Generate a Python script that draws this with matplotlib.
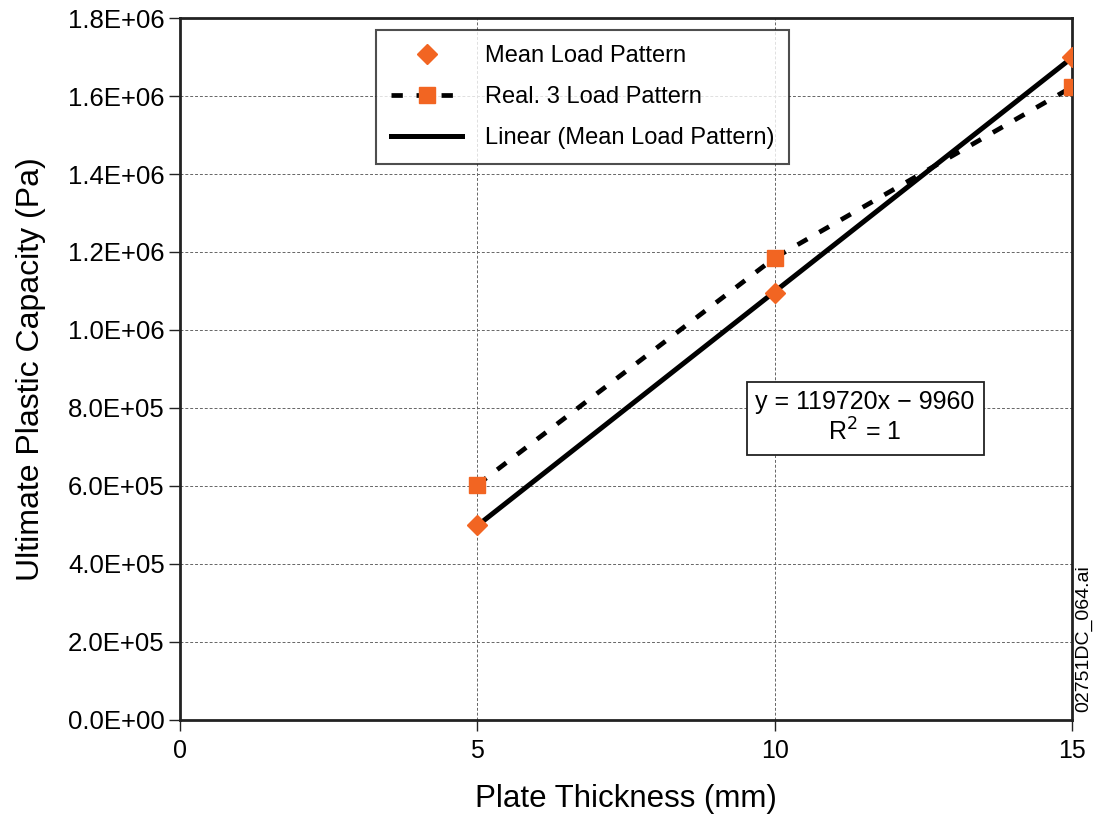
import matplotlib
matplotlib.use("Agg")
import matplotlib.pyplot as plt
import numpy as np

plt.rcParams['font.family'] = ['Liberation Sans', 'DejaVu Sans']

thickness = [5, 10, 15]
mean_load = [5.00e5, 1.095e6, 1.70e6]
real3_load = [6.03e5, 1.185e6, 1.623e6]
yticks = [0, 2e5, 4e5, 6e5, 8e5, 1.0e6, 1.2e6, 1.4e6, 1.6e6, 1.8e6]
ytick_labels = ["0.0E+00", "2.0E+05", "4.0E+05", "6.0E+05", "8.0E+05",
                "1.0E+06", "1.2E+06", "1.4E+06", "1.6E+06", "1.8E+06"]
xticks = [0, 5, 10, 15]

orange = "#F26522"

fig = plt.figure(figsize=(10.93, 8.15), dpi=100)
ax = fig.add_axes([0.1647, 0.1166, 0.8161, 0.8613])

coef = np.polyfit(thickness, mean_load, 1)
xfit = np.array([thickness[0], thickness[-1]])
ax.plot(xfit, np.polyval(coef, xfit), color="black", lw=3.6, zorder=3,
        label="Linear (Mean Load Pattern)")
ax.plot(thickness, real3_load, color="black", lw=3.4, ls=(0, (2.4, 2.9)),
        marker="s", markersize=11, markerfacecolor=orange, markeredgecolor=orange,
        zorder=4, label="Real. 3 Load Pattern")
ax.plot(thickness, mean_load, ls="none", marker="D", markersize=10,
        markerfacecolor=orange, markeredgecolor=orange, zorder=5,
        label="Mean Load Pattern")

ax.set_xlim(0, 15)
ax.set_ylim(0, 1.8e6)
ax.set_xticks(xticks)
ax.set_xticklabels([str(x) for x in xticks], fontsize=18)
ax.set_yticks(yticks)
ax.set_yticklabels(ytick_labels, fontsize=18.5)
ax.grid(True, color="#666666", ls=(0, (3, 2)), lw=0.7)
ax.set_axisbelow(True)
for s in ax.spines.values():
    s.set_color("#222222")
    s.set_linewidth(2)
ax.tick_params(axis="both", direction="out", length=8, width=1, color="#222222", pad=3)
ax.tick_params(axis="x", pad=6)

ax.set_xlabel("Plate Thickness (mm)", fontsize=22.5, labelpad=15)
ax.set_ylabel("Ultimate Plastic Capacity (Pa)", fontsize=23, labelpad=16)

handles, labels = ax.get_legend_handles_labels()
order = [2, 1, 0]
leg = ax.legend([handles[i] for i in order], [labels[i] for i in order],
                loc="upper left", bbox_to_anchor=(0.2197, 0.983), fontsize=17,
                frameon=True, fancybox=False, edgecolor="#222222",
                borderpad=0.65, labelspacing=0.8, handlelength=3.0,
                handletextpad=0.95, borderaxespad=0)
leg.get_frame().set_linewidth(1.5)

ax.text(11.52, 7.74e5, "y = 119720x \u2212 9960\nR$^2$ = 1", fontsize=18,
        ha="center", va="center", multialignment="center", zorder=6,
        linespacing=1.2,
        bbox=dict(boxstyle="square,pad=0.35", facecolor="white",
                  edgecolor="#222222", linewidth=1.3))

fig.text(0.991, 0.217, "02751DC_064.ai", rotation=90, fontsize=14,
         ha="center", va="center")

fig.savefig("out.png", dpi=100)
